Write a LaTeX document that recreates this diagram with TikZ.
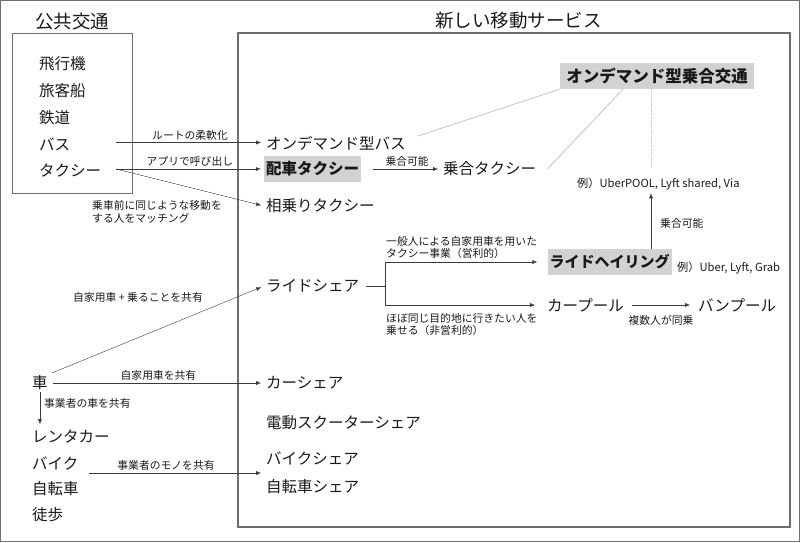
\documentclass[tikz,border=0pt]{standalone}
\usepackage{fontspec}
\setmainfont{Noto Sans CJK JP}
\usetikzlibrary{positioning, calc, arrows.meta}
\definecolor{ink}{RGB}{25, 25, 25}
\definecolor{framegray}{RGB}{110, 110, 110}
\definecolor{boxgray}{RGB}{210, 210, 210}
\definecolor{linkgray}{RGB}{195, 195, 195}

\begin{document}
\begin{tikzpicture}[
            x=1pt, y=-1pt,
            item/.style={anchor=west, inner sep=2pt, text=ink, font=\fontsize{15.5}{18}\selectfont},
            title/.style={anchor=west, inner sep=0pt, text=ink, font=\fontsize{18.5}{22}\selectfont},
            keybox/.style={fill=boxgray, inner sep=2pt, text=ink, minimum height=26pt, font=\bfseries\fontsize{15.5}{18}\selectfont},
            note/.style={text=ink, inner sep=1pt, align=left, font=\fontsize{10.8}{12.5}\selectfont},
            arrow/.style={-{Latex[length=5pt, width=4pt]}, ink!85},
            link/.style={linkgray, thick}
        ]
            \useasboundingbox (0,0) rectangle (800,542);
            \draw [framegray] (0.5,0.5) rectangle (799.5,541.5);

            % frames and titles
            \draw [framegray] (12,33) rectangle (132,193);
            \draw [framegray, line width=1.2pt] (238,33) rectangle (790,527);
            \node[title] (pubtitle) at (35,22) {公共交通};
            \node[title] (newtitle) at (435,21) {新しい移動サービス};

            % public transport
            \node[item] (plane) at (37,64) {飛行機};
            \node[item] (ship) at (37,91) {旅客船};
            \node[item] (rail) at (37,118) {鉄道};
            \node[item] (bus) at (37,144) {バス};
            \node[item] (taxi) at (37,171) {タクシー};

            % private modes
            \node[item] (car) at (30,383) {車};
            \node[item] (rental) at (30,437) {レンタカー};
            \node[item] (bike) at (30,463) {バイク};
            \node[item] (cycle) at (30,489) {自転車};
            \node[item] (walk) at (30,515) {徒歩};

            % new services
            \node[item] (odbus) at (264,143) {オンデマンド型バス};
            \node[keybox] (haisha) at (312.5,169) {配車タクシー};
            \node[item] (aino) at (264,206) {相乗りタクシー};
            \node[item] (norai) at (441,169) {乗合タクシー};
            \node[keybox, minimum width=194pt, font=\bfseries\fontsize{16.5}{19}\selectfont] (ondemand) at (657,76) {オンデマンド型乗合交通};
            \node[note, anchor=west, font=\fontsize{11.2}{13}\selectfont] (exPool) at (576,184) {例）UberPOOL, Lyft shared, Via};
            \node[keybox, font=\bfseries\fontsize{15}{18}\selectfont] (ridehail) at (609.5,262) {ライドヘイリング};
            \node[note, anchor=west, font=\fontsize{11.2}{13}\selectfont] (exUber) at (676,268) {例）Uber, Lyft, Grab};
            \node[item] (rideshare) at (264,286) {ライドシェア};
            \node[item] (carpool) at (545,305) {カープール};
            \node[item] (vanpool) at (696,305) {バンプール};
            \node[item] (carshare) at (264,383) {カーシェア};
            \node[item] (scooter) at (264,423) {電動スクーターシェア};
            \node[item] (bikeshare) at (264,458) {バイクシェア};
            \node[item] (cycleshare) at (264,487) {自転車シェア};

            \coordinate (busout) at (116,142.5);
            \coordinate (taxiout) at (116,169);
            \coordinate (hub) at (651,0);
            \coordinate (split) at (385,286);
            \coordinate (bikeout) at (89,473);

            % arrows from public transport
            \draw [arrow, shorten >=3pt] (busout) -- node[note, above=1pt] {ルートの柔軟化} (busout -| odbus.west);
            \draw [arrow, shorten >=3pt] (taxiout) -- node[note, above=1pt] {アプリで呼び出し} (taxiout -| haisha.west);
            \draw [arrow, shorten >=3pt] (taxiout) -- (aino.west);
            \node[note] (matchnote) at (157,212) {乗車前に同じような移動を\\する人をマッチング};
            \draw [arrow, shorten >=3pt] ([xshift=12pt]haisha.east) -- node[note, above=1pt] {乗合可能} (norai.west);

            % links to on-demand
            \draw [link] (ondemand.south west) -- ([shift={(10,-7)}]odbus.east);
            \draw [link] ([xshift=-34pt]ondemand.south) -- ([xshift=9pt]norai.east);
            \draw [link, densely dotted] (ondemand.south -| hub) -- ([yshift=9pt]exPool.north -| hub);
            \draw [arrow, shorten >=2pt] (ridehail.north -| hub) -- (exPool.south -| hub);
            \node[note, anchor=west] (poolnote) at (659,223) {乗合可能};

            % ride share branches
            \draw [ink!85] ([xshift=5pt]rideshare.east) -- (split);
            \draw [arrow] (split) |- ([xshift=-10pt]ridehail.west);
            \draw [arrow] (split) |- ([xshift=-10pt]carpool.west);
            \node[note, anchor=south west] (hailnote) at (385,260) {一般人による自家用車を用いた\\タクシー事業（営利的）};
            \node[note, anchor=north west] (carpoolnote) at (385,312) {ほぼ同じ目的地に行きたい人を\\乗せる（非営利的）};
            \draw [arrow] ([xshift=6pt]carpool.east) -- ([xshift=-6pt]vanpool.west);
            \node[note] (vannote) at (661,320) {複数人が同乗};

            % arrows from car and bike
            \draw [arrow, shorten >=3pt] ([shift={(2,-10)}]car.east) -- (rideshare.west);
            \node[note] (ridenote) at (138,297) {自家用車 + 乗ることを共有};
            \draw [arrow, shorten >=3pt] ([xshift=3pt]car.east) -- node[note, above=1pt] {自家用車を共有} (car.east -| carshare.west);
            \draw [arrow, shorten >=4pt] (car.south) -- node[note, right=3pt, pos=0.3] {事業者の車を共有} (rental.north -| car.south);
            \draw [arrow, shorten >=3pt] (bikeout) -- node[note, above=1pt, pos=0.44] {事業者のモノを共有} (bikeout -| bikeshare.west);
        \end{tikzpicture}
\end{document}
